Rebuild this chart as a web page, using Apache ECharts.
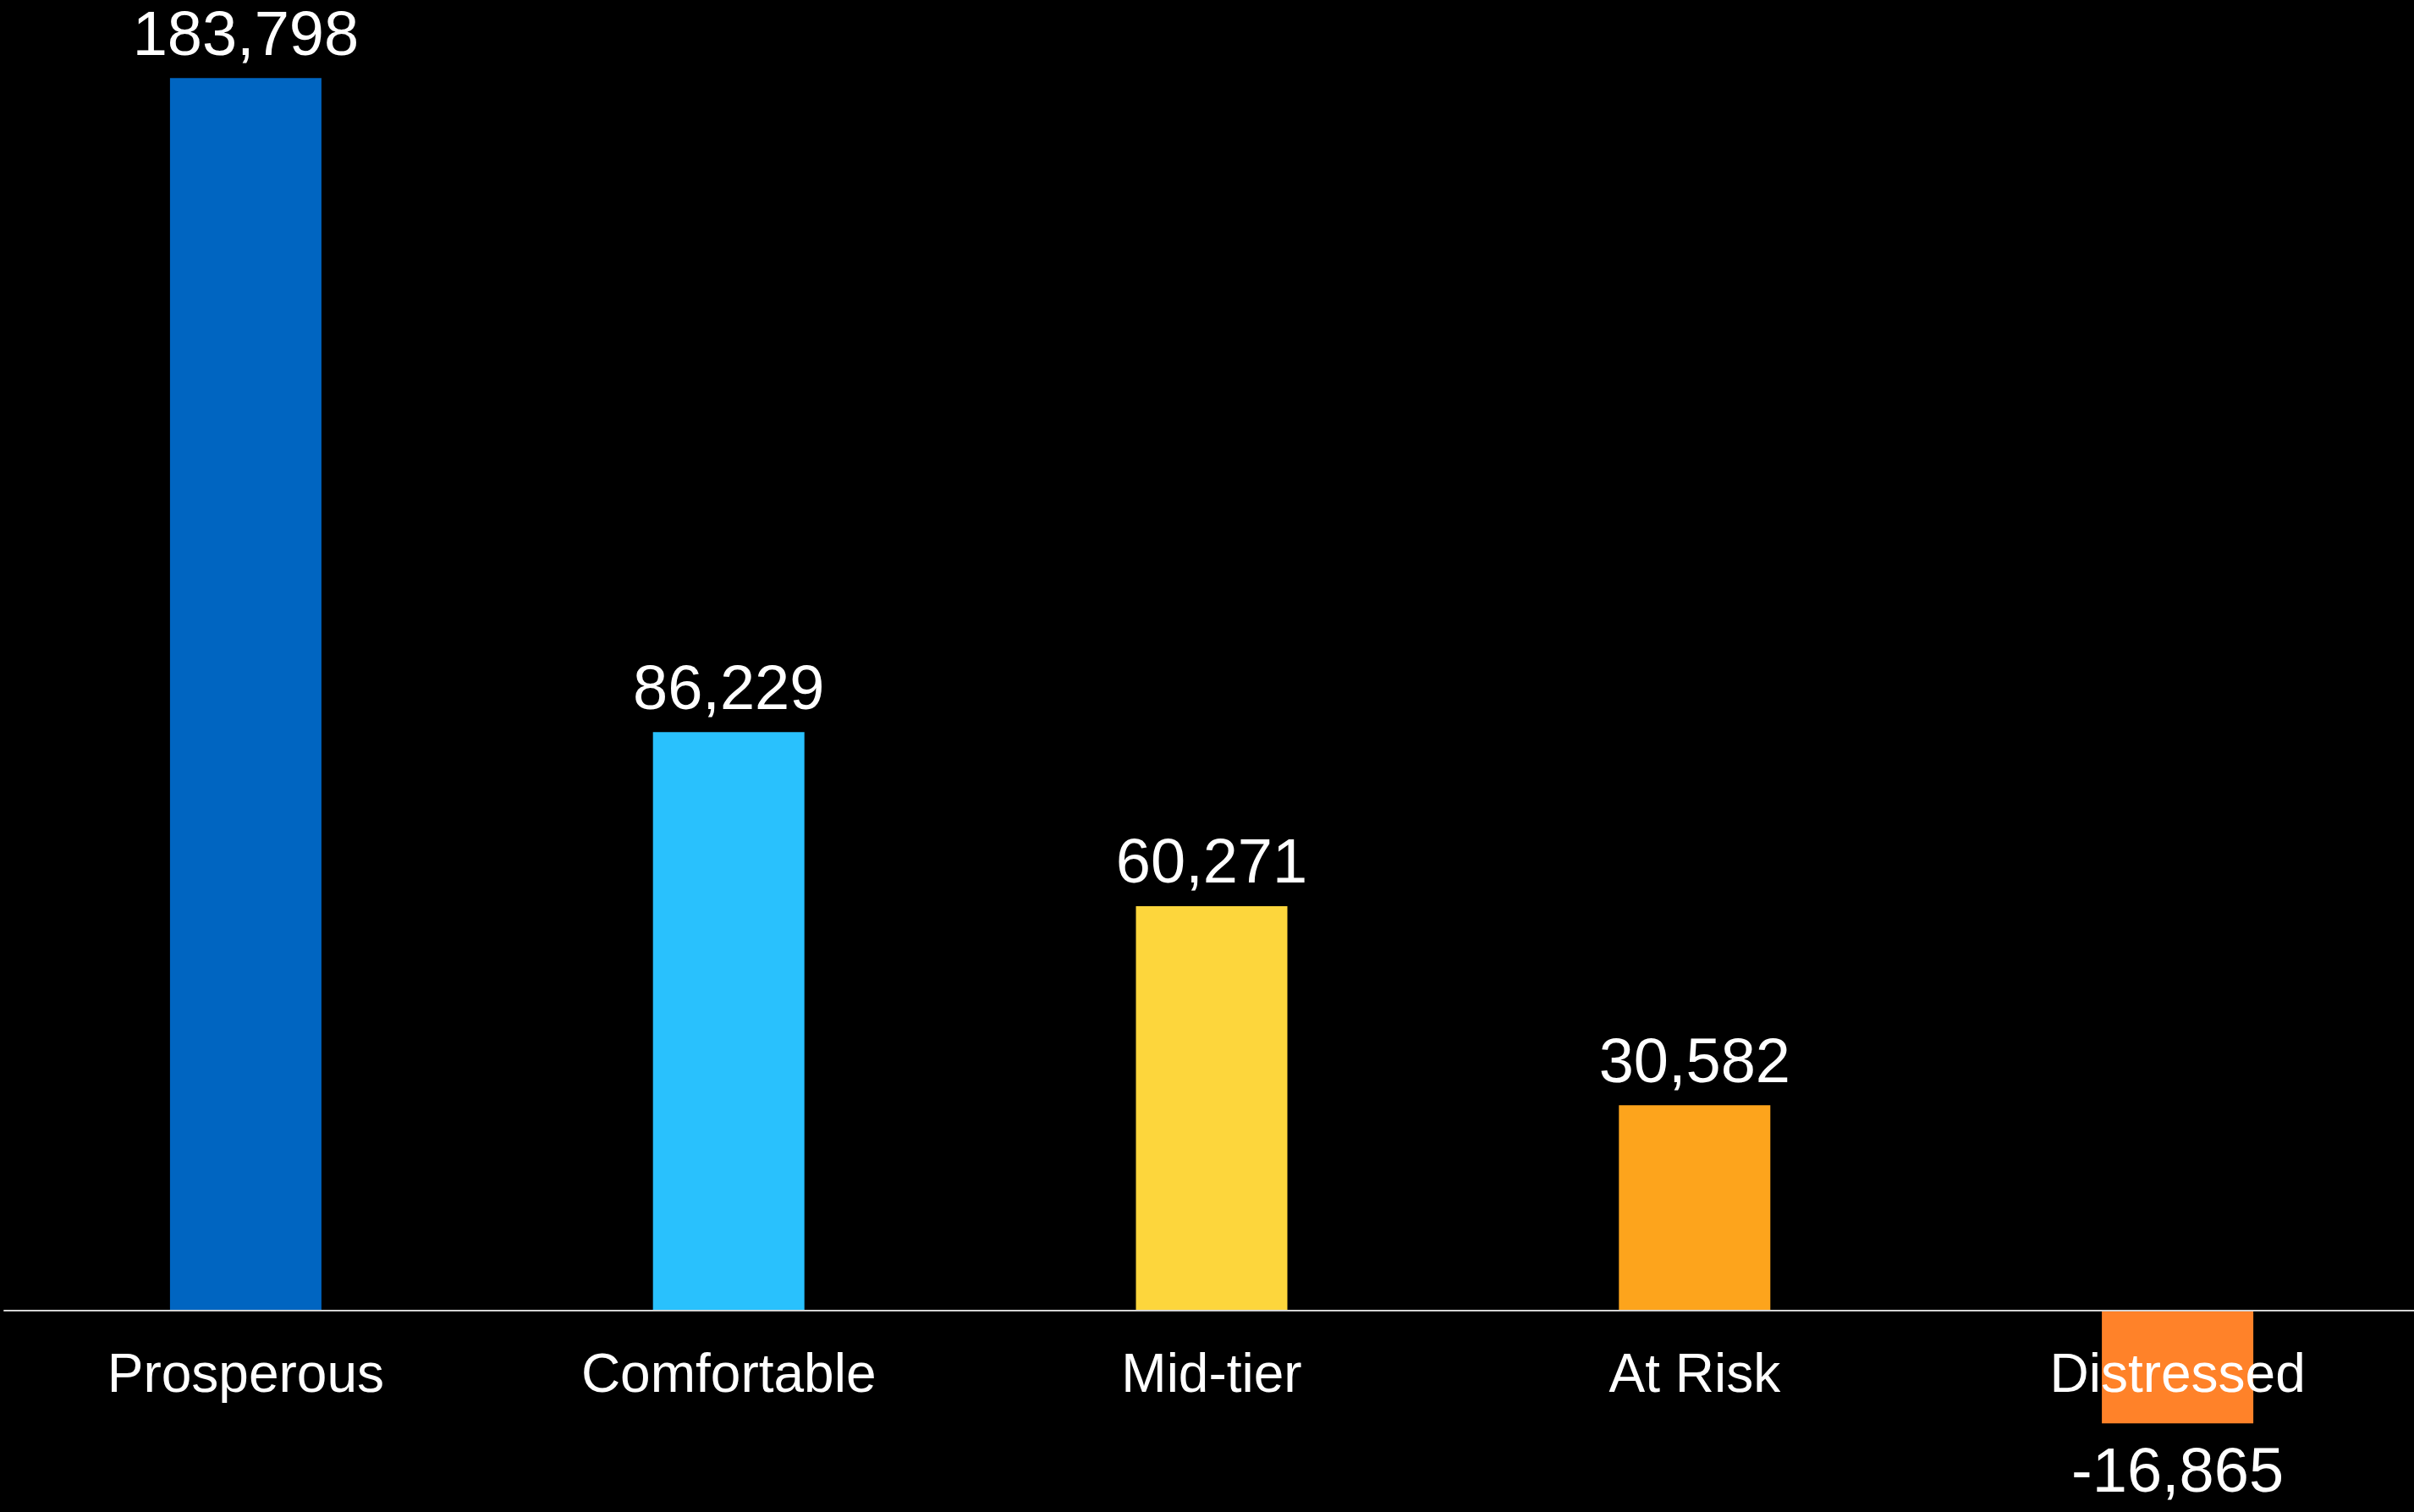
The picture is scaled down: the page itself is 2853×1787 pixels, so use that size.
<!DOCTYPE html>
<html>
<head>
<meta charset="utf-8">
<title>Segments</title>
<script src="https://cdn.jsdelivr.net/npm/echarts@6/dist/echarts.min.js"></script>
<style>
  html, body { margin: 0; padding: 0; background: #000; }
  #chart { width: 2853px; height: 1787px; }
</style>
</head>
<body>
<div id="chart"></div>
<script>
// Segment names along the category axis
const categories = ['Prosperous', 'Comfortable', 'Mid-tier', 'At Risk', 'Distressed'];
// Net value per segment
const values = [183798, 86229, 60271, 30582, -16865];
// Fill colour per segment
const barColors = ['#0065C1', '#29C1FD', '#FDD63C', '#FDA41C', '#FF8229'];

const FONT = '"Liberation Sans", Arial, sans-serif';
const fmt = v => v.toLocaleString('en-US');

// Value range of the plot; the category axis sits on the zero line
const Y_MIN = -20000;
const Y_MAX = 190000;
const GRID_TOP = 43;
const GRID_HEIGHT = 1664;
// distance from the grid bottom up to the zero line
const zeroOffset = GRID_HEIGHT * (0 - Y_MIN) / (Y_MAX - Y_MIN);

const chart = echarts.init(document.getElementById('chart'), null, { renderer: 'canvas' });

chart.setOption({
  backgroundColor: '#000000',
  animation: false,
  grid: {
    left: 5, width: 2854, top: GRID_TOP, height: GRID_HEIGHT,
    containLabel: false, outerBoundsMode: 'none'
  },
  xAxis: {
    type: 'category',
    data: categories,
    z: 10,
    offset: -zeroOffset,
    axisLine: { show: true, onZero: false, lineStyle: { color: '#d4d4d4', width: 2 } },
    axisTick: { show: false },
    splitLine: { show: false },
    axisLabel: { color: '#ffffff', fontSize: 64, fontFamily: FONT, margin: 47 }
  },
  yAxis: {
    type: 'value',
    min: Y_MIN,
    max: Y_MAX,
    show: false,
    splitLine: { show: false }
  },
  series: [{
    type: 'bar',
    barWidth: 179,
    data: values.map((v, i) => ({
      value: v,
      itemStyle: { color: barColors[i] },
      // labels under negative bars sit a little further from the bar end
      label: { distance: v < 0 ? 23 : 11 }
    })),
    label: {
      show: true,
      position: 'outside',
      color: '#ffffff',
      fontSize: 74,
      fontFamily: FONT,
      formatter: p => fmt(p.value)
    }
  }]
});
</script>
</body>
</html>
